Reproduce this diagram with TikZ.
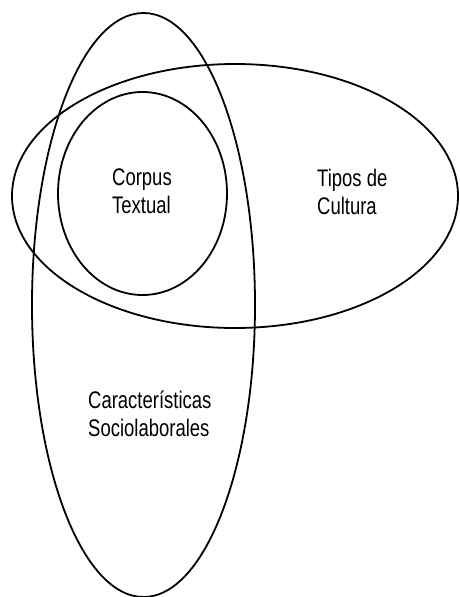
\documentclass[tikz,border=0pt]{standalone}
\usepackage{fontspec}
\usepackage{tikz}
\usetikzlibrary{positioning}
\newfontfamily\vennfont[FakeStretch=0.77]{Liberation Sans}

\tikzset{
    venn/.style={line width=1.8pt},
    vennlabel/.style={align=left, font=\vennfont\fontsize{24}{28}\selectfont, inner sep=0pt}
}

\begin{document}
\begin{tikzpicture}[x=1pt, y=-1pt]
            \useasboundingbox (0, 0) rectangle (460, 597);

            %% Sets
            % Caracteristicas sociolaborales (tall ellipse)
            \draw[venn] (143.5, 305) ellipse [x radius=111.5, y radius=292];

            % Tipos de cultura (wide ellipse)
            \draw[venn] (235, 196) ellipse [x radius=223, y radius=132];

            % Corpus textual (inner ellipse)
            \draw[venn] (142.5, 193.5) ellipse [x radius=84.5, y radius=101.5];

            %% Labels
            \node[vennlabel, anchor=north west] (corpus) at (112, 169) {Corpus\\Textual};
            \node[vennlabel, anchor=north west] (tipos) at (317, 169) {Tipos de\\Cultura};
            \node[vennlabel, anchor=north west] (caract) at (88, 391) {Características\\Sociolaborales};

        \end{tikzpicture}
\end{document}
